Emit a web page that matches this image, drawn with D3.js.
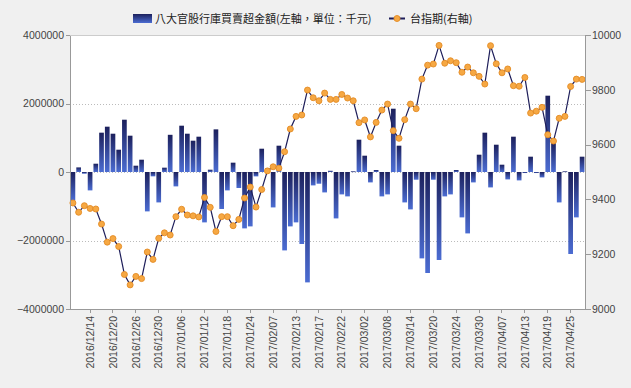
<!DOCTYPE html>
<html>
<head>
<meta charset="utf-8">
<script src="https://cdn.jsdelivr.net/npm/d3@7"></script>
<style>
  body { margin: 0; background: #f0f0f0; }
  text { font-family: 'Liberation Sans', Arial, sans-serif; fill: #444; }
  .legend text { font-family: 'Noto Sans CJK TC', 'Liberation Sans', sans-serif; font-size: 11px; fill: #222; }
  .axis path, .axis line { stroke: #999; shape-rendering: crispEdges; }
  .axis text { font-size: 10.5px; fill: #444; }
  .grid line { stroke: #bbb; stroke-dasharray: 1,2; shape-rendering: crispEdges; }
</style>
</head>
<body>
<div id="chart"></div>
<script>
// trading days
var dates = [
  "2016/12/09","2016/12/12","2016/12/13","2016/12/14","2016/12/15","2016/12/16",
  "2016/12/19","2016/12/20","2016/12/21","2016/12/22","2016/12/23",
  "2016/12/26","2016/12/27","2016/12/28","2016/12/29","2016/12/30",
  "2017/01/03","2017/01/04","2017/01/05","2017/01/06",
  "2017/01/09","2017/01/10","2017/01/11","2017/01/12","2017/01/13",
  "2017/01/16","2017/01/17","2017/01/18","2017/01/19","2017/01/20",
  "2017/01/23","2017/01/24","2017/02/02","2017/02/03",
  "2017/02/06","2017/02/07","2017/02/08","2017/02/09","2017/02/10",
  "2017/02/13","2017/02/14","2017/02/15","2017/02/16","2017/02/17","2017/02/18",
  "2017/02/20","2017/02/21","2017/02/22","2017/02/23","2017/02/24",
  "2017/03/01","2017/03/02","2017/03/03",
  "2017/03/06","2017/03/07","2017/03/08","2017/03/09","2017/03/10",
  "2017/03/13","2017/03/14","2017/03/15","2017/03/16","2017/03/17",
  "2017/03/20","2017/03/21","2017/03/22","2017/03/23","2017/03/24",
  "2017/03/27","2017/03/28","2017/03/29","2017/03/30","2017/03/31",
  "2017/04/05","2017/04/06","2017/04/07",
  "2017/04/10","2017/04/11","2017/04/12","2017/04/13","2017/04/14",
  "2017/04/17","2017/04/18","2017/04/19","2017/04/20","2017/04/21",
  "2017/04/24","2017/04/25","2017/04/26","2017/04/27"
];

// 八大官股行庫買賣超金額 (千元)
var netBuy = [
  -830000, 134000, -50000, -537000, 242000, 1148000,
  1323000, 1118000, 651000, 1527000, 1060000,
  184000, 359000, -1150000, -127000, -888000,
  126000, 1086000, -420000, 1352000,
  1118000, 914000, 1031000, -1471000, 67000,
  1245000, -1080000, -537000, 272000, -467000,
  -1646000, -1588000, -128000, 680000,
  105000, -1034000, 768000, -2289000, -1588000,
  -1471000, -2102000, -3223000, -391000, -342000, -596000,
  35000, -1355000, -654000, -712000, 20000,
  943000, 476000, -304000,
  58000, -712000, -654000, 1848000, 768000,
  -888000, -1092000, -225000, -2522000, -2949000,
  -225000, -2569000, -712000, -654000, 58000,
  -1325000, -1793000, -304000, 505000, 1148000,
  -450000, 797000, 213000,
  -216000, 1031000, -245000, -30000, 447000,
  -30000, -158000, 2228000, 847000, -888000,
  20000, -2394000, -1325000, 447000
];

// 台指期
var futures = [
  9387, 9353, 9377, 9367, 9365, 9310,
  9244, 9257, 9228, 9126, 9088,
  9119, 9111, 9208, 9181, 9258,
  9278, 9270, 9337, 9364,
  9343, 9340, 9336, 9407, 9371,
  9283, 9337, 9337, 9304, 9327,
  9405, 9445, 9372, 9436,
  9504, 9519, 9514, 9574, 9657,
  9703, 9708, 9799, 9771, 9760, 9788,
  9765, 9765, 9783, 9770, 9760,
  9680, 9690, 9628,
  9681, 9726, 9748, 9651, 9623,
  9691, 9748, 9731, 9839, 9890,
  9894, 9962, 9897, 9906, 9899,
  9864, 9883, 9862, 9849, 9821,
  9961, 9895, 9862,
  9876, 9815, 9813, 9845, 9715,
  9722, 9736, 9636, 9613, 9696,
  9703, 9812, 9839, 9838
];

var leftTicks = [-4000000, -2000000, 0, 2000000, 4000000];
var rightTicks = [9000, 9200, 9400, 9600, 9800, 10000];
var barLabel = "八大官股行庫買賣超金額(左軸，單位：千元)";
var lineLabel = "台指期(右軸)";

var W = 631, H = 388;
var margin = {top: 35, right: 46, bottom: 79, left: 70},
  width = W - margin.left - margin.right,
  height = H - margin.top - margin.bottom;

var svg = d3.select("#chart").append("svg")
  .attr("width", W)
  .attr("height", H);

var defs = svg.append("defs");
var grad = defs.append("linearGradient")
  .attr("id", "barGrad")
  .attr("x1", 0).attr("y1", 0).attr("x2", 0).attr("y2", 1);
grad.append("stop").attr("offset", "0%").attr("stop-color", "#1c205c");
grad.append("stop").attr("offset", "100%").attr("stop-color", "#4b6cd2");

var g = svg.append("g")
  .attr("transform", "translate(" + margin.left + "," + margin.top + ")");

var x = d3.scaleBand()
  .domain(dates)
  .range([0, width])
  .paddingInner(0.18)
  .paddingOuter(0.1);

var yL = d3.scaleLinear().domain([-4000000, 4000000]).range([height, 0]);
var yR = d3.scaleLinear().domain([9000, 10000]).range([height, 0]);

// plot background
g.append("rect")
  .attr("width", width)
  .attr("height", height)
  .attr("fill", "#fff")
  .attr("stroke", "#ccc")
  .attr("shape-rendering", "crispEdges");

// grid
g.append("g").attr("class", "grid")
  .selectAll("line")
  .data(leftTicks.filter(d => Math.abs(d) < 4000000))
  .join("line")
  .attr("x1", 0).attr("x2", width)
  .attr("y1", d => Math.round(yL(d)) + 0.5)
  .attr("y2", d => Math.round(yL(d)) + 0.5);

// bars
g.append("g")
  .selectAll("rect")
  .data(netBuy)
  .join("rect")
  .attr("x", (d, i) => x(dates[i]))
  .attr("width", x.bandwidth())
  .attr("y", d => yL(Math.max(0, d)))
  .attr("height", d => Math.max(0.8, Math.abs(yL(d) - yL(0))))
  .attr("fill", "url(#barGrad)");

// line
var line = d3.line()
  .x((d, i) => x(dates[i]) + x.bandwidth() / 2)
  .y(d => yR(d));

g.append("path")
  .datum(futures)
  .attr("fill", "none")
  .attr("stroke", "#1e1e5a")
  .attr("stroke-width", 1.2)
  .attr("d", line);

g.append("g")
  .selectAll("circle")
  .data(futures)
  .join("circle")
  .attr("cx", (d, i) => x(dates[i]) + x.bandwidth() / 2)
  .attr("cy", d => yR(d))
  .attr("r", 3)
  .attr("fill", "#f6a843")
  .attr("stroke", "#e38b25")
  .attr("stroke-width", 0.9);

// axes
g.append("g").attr("class", "axis")
  .call(d3.axisLeft(yL).tickValues(leftTicks).tickSize(4).tickSizeOuter(0).tickFormat(d3.format("d")))
  .call(a => a.selectAll("text").attr("x", -6));

g.append("g").attr("class", "axis")
  .attr("transform", "translate(" + width + ",0)")
  .call(d3.axisRight(yR).tickValues(rightTicks).tickSize(6).tickSizeOuter(0).tickFormat(d3.format("d")))
  .call(a => a.selectAll("text").attr("x", 7));

var xTicks = dates.filter((d, i) => i >= 3 && (i - 3) % 4 === 0);
g.append("g").attr("class", "axis")
  .attr("transform", "translate(0," + height + ")")
  .call(d3.axisBottom(x).tickValues(xTicks).tickSize(4).tickSizeOuter(0))
  .call(a => a.selectAll("text")
    .attr("transform", "rotate(-90)")
    .attr("x", -7)
    .attr("y", 0)
    .attr("dy", "0.35em")
    .style("text-anchor", "end"));

// legend
var legend = svg.append("g").attr("class", "legend");
legend.append("rect")
  .attr("x", 133).attr("y", 14)
  .attr("width", 19).attr("height", 9)
  .attr("fill", "url(#barGrad)");
legend.append("text")
  .attr("x", 155).attr("y", 23)
  .text(barLabel);
legend.append("line")
  .attr("x1", 389).attr("x2", 405)
  .attr("y1", 18.5).attr("y2", 18.5)
  .attr("stroke", "#1e1e5a").attr("stroke-width", 2);
legend.append("circle")
  .attr("cx", 397).attr("cy", 18.5).attr("r", 3)
  .attr("fill", "#f6a843").attr("stroke", "#e38b25").attr("stroke-width", 0.9);
legend.append("text")
  .attr("x", 410).attr("y", 23)
  .text(lineLabel);
</script>
</body>
</html>
